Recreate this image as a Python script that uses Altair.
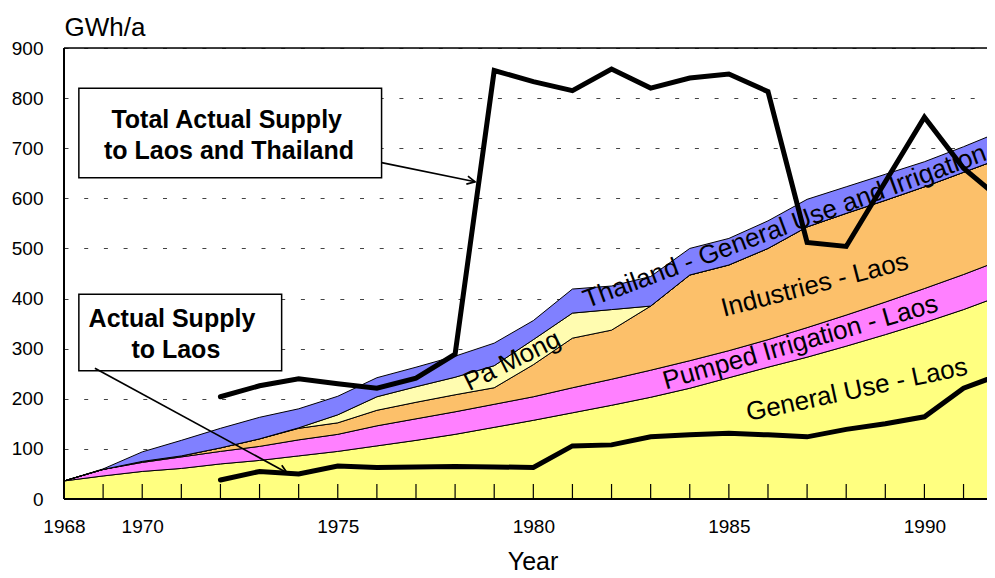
import altair as alt
import pandas as pd

# ---------------- data ----------------
years = list(range(1968, 1993))
general_use = [36, 46, 55, 61, 70, 77, 86, 95, 106, 117, 129, 143, 157, 172, 187, 203, 221, 242, 263, 283, 305, 328, 352, 378, 407]
pumped_irrigation = [0, 13, 18, 23, 25, 28, 32, 34, 40, 43, 45, 46, 47, 50, 52, 54, 55, 54, 55, 59, 62, 65, 68, 70, 71]
industries = [0, 0, 2, 2, 7, 15, 23, 23, 31, 33, 34, 33, 64, 99, 98, 128, 171, 171, 182, 201, 203, 203, 203, 204, 203]
pa_mong = [0, 0, 0, 0, 0, 0, 1, 16, 27, 31, 35, 44, 50, 50, 41, 0, 0, 0, 0, 0, 0, 0, 0, 0, 0]
thailand = [0, 1, 19, 31, 39, 43, 38, 37, 38, 39, 42, 45, 38, 48, 47, 59, 53, 53, 55, 55, 53, 52, 50, 51, 54]

supply_years = list(range(1972, 1993))
total_supply = [204, 226, 240, 230, 221, 241, 289, 855, 833, 815, 858, 820, 840, 848, 813, 512, 504, 633, 762, 660, 595]
laos_supply = [38, 55, 50, 66, 63, 64, 65, 64, 63, 106, 108, 124, 128, 131, 128, 124, 139, 150, 164, 221, 250]

components = ["General Use - Laos", "Pumped Irrigation - Laos", "Industries - Laos",
              "Pa Mong", "Thailand - General Use and Irrigation"]
colors = ["#FFFF80", "#FF80FF", "#FCC06A", "#FFFCB0", "#8080FF"]

x_label_years = [1968, 1970, 1975, 1980, 1985, 1990]
minor_tick_years = list(range(1969, 1992))
y_ticks = [0, 100, 200, 300, 400, 500, 600, 700, 800, 900]

# annotation texts (positions in data units, kept separate from the data)
box_rects = [
    {"x": 1968.38, "x2": 1976.12, "y": 819.8, "y2": 641.3},
    {"x": 1968.38, "x2": 1973.565, "y": 408.6, "y2": 256.1},
]
box_lines = [
    {"x": 1972.16, "y": 739.8, "t": "Total Actual Supply"},
    {"x": 1972.22, "y": 677.9, "t": "to Laos and Thailand"},
    {"x": 1970.76, "y": 342.6, "t": "Actual Supply"},
    {"x": 1970.86, "y": 280.8, "t": "to Laos"},
]
arrows = [
    {"x": 1976.12, "y": 671.3, "x2": 1978.51, "y2": 633.1, "ang": 101.5},
    {"x": 1968.79, "y": 260.9, "x2": 1973.70, "y2": 52.5, "ang": 118.6},
]
area_labels = [
    ("General Use - Laos", 1988.27, 217.8, 348, "center"),
    ("Pumped Irrigation - Laos", 1986.83, 312.4, 344, "center"),
    ("Industries - Laos", 1987.20, 427.0, 345.5, "center"),
    ("Pa Mong", 1979.46, 275.6, 333.5, "center"),
    ("Thailand - General Use and Irrigation", 1981.30, 395.6, 339.7, "left"),
]

# ---------------- chart ----------------
FONT = "Liberation Sans"
W, H = 923, 451
x_scale = alt.Scale(domain=[1968, 1991.6], nice=False, zero=False)
y_scale = alt.Scale(domain=[0, 900], nice=False, zero=True)

rows = []
for order, (name, vals) in enumerate(zip(components, [general_use, pumped_irrigation, industries, pa_mong, thailand])):
    for yr, v in zip(years, vals):
        rows.append({"year": yr, "component": name, "value": v, "order": order})
area_df = pd.DataFrame(rows)

x_axis = alt.Axis(values=x_label_years, format="d", title="Year", grid=False, ticks=False, tickSize=0,
                  domain=False, labelPadding=18.5, labelFontSize=19, labelFont=FONT, labelColor="black",
                  labelFlush=False, labelOverlap=False,
                  titleFontSize=25, titleFont=FONT, titleFontWeight="normal", titleColor="black",
                  titleX=468.5, titleY=70, titleAlign="center", titleBaseline="alphabetic")
y_axis = alt.Axis(values=y_ticks, title="GWh/a", grid=True, gridDash=[4, 15.7], gridColor="#444", gridWidth=1,
                  ticks=False, tickSize=0, domain=False, labelPadding=21, labelFontSize=19, labelFont=FONT,
                  labelColor="black", labelFlush=False, labelOverlap=False,
                  titleAngle=0, titleX=0, titleY=-13, titleAlign="left", titleBaseline="alphabetic",
                  titleFontSize=26, titleFont=FONT, titleFontWeight="normal", titleColor="black")


def X(field):
    return alt.X(field, type="quantitative", scale=x_scale, axis=x_axis)


def Y(field, **kw):
    return alt.Y(field, type="quantitative", scale=y_scale, axis=y_axis, **kw)


areas = alt.Chart(area_df).mark_area(stroke="black", strokeWidth=1, clip=True).encode(
    x=X("year"),
    y=Y("value", stack="zero"),
    color=alt.Color("component:N", scale=alt.Scale(domain=components, range=colors), legend=None),
    order=alt.Order("order:Q", sort="ascending"),
)

tick_df = pd.DataFrame({"year": minor_tick_years})
ticks = alt.Chart(tick_df).mark_rule(color="black", strokeWidth=1.2).encode(
    x=X("year"),
    y=alt.value(H - 15), y2=alt.value(H),
)

one = pd.DataFrame({"k": [0]})
top_border = alt.Chart(one).mark_rule(color="black", strokeWidth=1.5).encode(
    x=alt.value(0), x2=alt.value(W), y=alt.value(0))
left_border = alt.Chart(one).mark_rule(color="black", strokeWidth=2).encode(
    x=alt.value(0), y=alt.value(0), y2=alt.value(H))
bottom_border = alt.Chart(one).mark_rule(color="black", strokeWidth=2).encode(
    x=alt.value(0), x2=alt.value(W), y=alt.value(H))

boxes = alt.Chart(pd.DataFrame(box_rects)).mark_rect(fill="white", stroke="black", strokeWidth=1.5).encode(
    x=X("x"), x2="x2:Q",
    y=Y("y"), y2="y2:Q",
)
box_text = alt.Chart(pd.DataFrame(box_lines)).mark_text(
    font=FONT, fontSize=25, fontWeight="bold", color="black", align="center", baseline="alphabetic"
).encode(
    x=X("x"),
    y=Y("y"),
    text="t:N",
)

line_df = pd.DataFrame({"year": supply_years, "total": total_supply, "laos": laos_supply})
total_line = alt.Chart(line_df).mark_line(color="black", strokeWidth=5, strokeCap="round", clip=True).encode(
    x=X("year"),
    y=Y("total"),
)
laos_line = alt.Chart(line_df).mark_line(color="black", strokeWidth=5, strokeCap="round", clip=True).encode(
    x=X("year"),
    y=Y("laos"),
)

arrow_df = pd.DataFrame(arrows)
arrow_lines = alt.Chart(arrow_df).mark_rule(color="black", strokeWidth=1.7).encode(
    x=X("x"), x2="x2:Q",
    y=Y("y"), y2="y2:Q",
)
head_layers = []
for a in arrows:
    head_layers.append(
        alt.Chart(pd.DataFrame([a])).mark_point(
            shape="M -0.5 1 L 0 0 L 0.5 1", filled=False, stroke="black", strokeWidth=1.7,
            size=260, angle=a["ang"], opacity=1,
        ).encode(
            x=X("x2"),
            y=Y("y2"),
        )
    )

label_layers = []
for text, lx, ly, ang, al in area_labels:
    label_layers.append(
        alt.Chart(pd.DataFrame([{"x": lx, "y": ly, "t": text}])).mark_text(
            font=FONT, fontSize=26, color="black", angle=ang, align=al, baseline="middle", clip=True
        ).encode(
            x=X("x"),
            y=Y("y"),
            text="t:N",
        )
    )

chart = alt.layer(
    areas, ticks, boxes, box_text, total_line, laos_line, arrow_lines, *head_layers, *label_layers,
    top_border, left_border, bottom_border,
).properties(
    width=W, height=H,
    autosize=alt.AutoSizeParams(type="none"),
    padding={"left": 56, "top": 40, "right": 0, "bottom": 71},
).configure_view(strokeWidth=0).configure(background="white")

chart.save("out.html", embed_options={"renderer": "svg", "actions": False})
